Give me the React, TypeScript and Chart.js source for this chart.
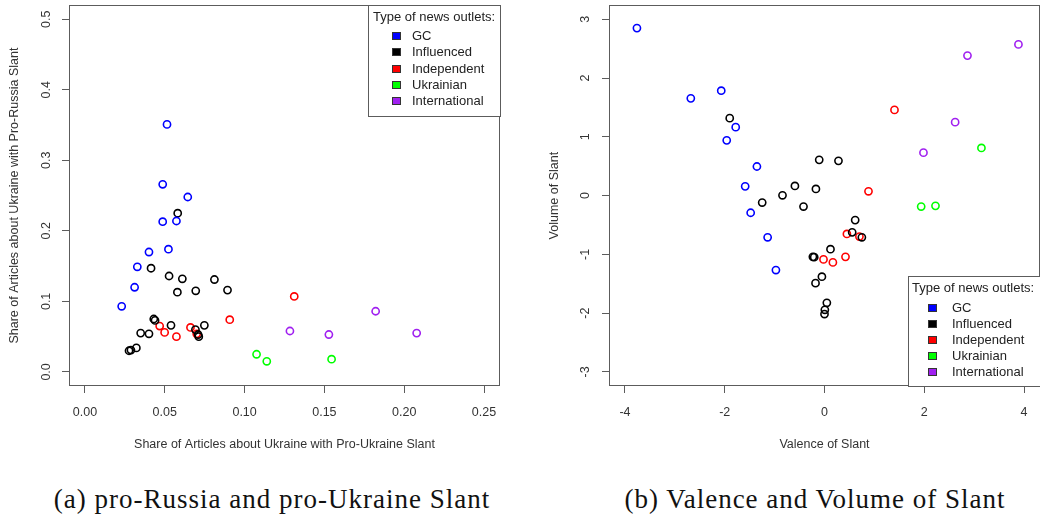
import React, { useEffect, useRef } from "react";
import { Chart, registerables } from "chart.js";

Chart.register(...registerables);

// Outlet groups and their colours
const groupNames = ["GC", "Influenced", "Independent", "Ukrainian", "International"];
const groupColors = ["#0000ff", "#000000", "#ff0000", "#00ff00", "#a020f0"];

// Panel (a): share of articles with pro-Ukraine slant (x) and pro-Russia slant (y)
const gcProUkraine = [0.0514, 0.0487, 0.0644, 0.0487, 0.0573, 0.0523, 0.0401, 0.0328, 0.0311, 0.023];
const gcProRussia = [0.351, 0.266, 0.248, 0.213, 0.214, 0.174, 0.17, 0.149, 0.12, 0.093];
const influencedProUkraine = [0.0581, 0.0414, 0.0527, 0.061, 0.0811, 0.0579, 0.0694, 0.0893, 0.0431, 0.0439, 0.0539, 0.0748, 0.0692, 0.0709, 0.0713, 0.0349, 0.0401, 0.0276, 0.0288, 0.0322];
const influencedProRussia = [0.225, 0.147, 0.136, 0.132, 0.131, 0.113, 0.115, 0.116, 0.075, 0.073, 0.066, 0.066, 0.06, 0.053, 0.05, 0.055, 0.054, 0.03, 0.031, 0.034];
const independentProUkraine = [0.1311, 0.0907, 0.0468, 0.0499, 0.0573, 0.0661, 0.07];
const independentProRussia = [0.107, 0.074, 0.065, 0.056, 0.05, 0.063, 0.054];
const ukrainianProUkraine = [0.1075, 0.1139, 0.1545];
const ukrainianProRussia = [0.025, 0.015, 0.018];
const internationalProUkraine = [0.1284, 0.1528, 0.1821, 0.2078];
const internationalProRussia = [0.058, 0.053, 0.086, 0.055];

// Panel (b): valence (x) and volume (y) of slant
const gcValence = [-3.76, -2.68, -2.07, -1.78, -1.96, -1.355, -1.59, -1.48, -1.14, -0.974];
const gcVolume = [2.85, 1.655, 1.785, 1.165, 0.94, 0.495, 0.157, -0.292, -0.71, -1.267];
const influencedValence = [-1.9, -0.106, 0.28, -0.593, -0.842, -0.172, -1.249, -0.421, 0.615, 0.555, 0.749, 0.12, -0.233, -0.206, -0.052, -0.18, 0.047, 0.007, 0.0];
const influencedVolume = [1.318, 0.608, 0.591, 0.164, 0.005, 0.113, -0.118, -0.186, -0.417, -0.625, -0.71, -0.912, -1.042, -1.047, -1.38, -1.49, -1.824, -1.943, -2.016];
const independentValence = [1.403, 0.882, 0.449, 0.7, -0.02, 0.168, 0.421];
const independentVolume = [1.458, 0.073, -0.653, -0.698, -1.086, -1.137, -1.042];
const ukrainianValence = [3.146, 1.938, 2.225];
const ukrainianVolume = [0.811, -0.186, -0.174];
const internationalValence = [3.888, 2.866, 2.619, 1.984];
const internationalVolume = [2.573, 2.382, 1.25, 0.731];

// Axis ticks
const shareTicksX = [0, 0.05, 0.1, 0.15, 0.2, 0.25];
const shareTicksY = [0, 0.1, 0.2, 0.3, 0.4, 0.5];
const valenceTicks = [-4, -2, 0, 2, 4];
const volumeTicks = [-3, -2, -1, 0, 1, 2, 3];

const legendTitle = "Type of news outlets:";
const captionA = "(a) pro-Russia and pro-Ukraine Slant";
const captionB = "(b) Valence and Volume of Slant";

const SANS = '"Liberation Sans", Arial, Helvetica, sans-serif';
const AXIS_GREY = "#5c5c5c";
const TEXT_GREY = "#333";

const zipPoints = (xs: number[], ys: number[]) => xs.map((x, i) => ({ x, y: ys[i] }));

function makeDatasets(pairs: [number[], number[]][]) {
  return pairs.map(([xs, ys], i) => ({
    label: groupNames[i],
    data: zipPoints(xs, ys),
    borderColor: groupColors[i],
    backgroundColor: "rgba(0,0,0,0)",
    borderWidth: 1.6,
    pointRadius: 3.6,
    pointHoverRadius: 3.6,
  }));
}

// Box drawn around the plotting region
const framePlugin = {
  id: "frame",
  afterDatasetsDraw(chart: any) {
    const { ctx, chartArea } = chart;
    ctx.save();
    ctx.strokeStyle = AXIS_GREY;
    ctx.lineWidth = 1;
    ctx.strokeRect(
      Math.round(chartArea.left) + 0.5,
      Math.round(chartArea.top) + 0.5,
      Math.round(chartArea.right - chartArea.left) - 1,
      Math.round(chartArea.bottom - chartArea.top) - 1
    );
    ctx.restore();
  },
};

// Boxed legend with a title, anchored to a corner of the plotting region
const boxLegendPlugin = {
  id: "boxLegend",
  afterDraw(chart: any, _args: any, opts: any) {
    const { ctx, chartArea } = chart;
    const w = opts.width;
    const h = opts.height;
    const x0 = Math.round(chartArea.right - w);
    const y0 = Math.round(opts.corner === "top" ? chartArea.top : chartArea.bottom - h);
    ctx.save();
    ctx.fillStyle = "#fff";
    ctx.fillRect(x0, y0, w, h);
    ctx.strokeStyle = AXIS_GREY;
    ctx.lineWidth = 1;
    ctx.strokeRect(x0 + 0.5, y0 + 0.5, w, h);
    ctx.font = `13px ${SANS}`;
    ctx.textBaseline = "middle";
    ctx.textAlign = "left";
    ctx.fillStyle = "#222";
    ctx.fillText(opts.title, x0 + opts.titleX, y0 + 12.5);
    chart.data.datasets.forEach((ds: any, i: number) => {
      const cy = Math.round(y0 + opts.firstY + i * opts.stepY);
      ctx.fillStyle = ds.borderColor;
      ctx.fillRect(x0 + opts.swatchX, cy - 4, 9, 8);
      ctx.strokeStyle = "#333";
      ctx.strokeRect(x0 + opts.swatchX + 0.5, cy - 3.5, 8, 7);
      ctx.fillStyle = "#222";
      ctx.fillText(ds.label, x0 + opts.textX, cy + 0.5);
    });
    ctx.restore();
  },
};

function axisTicks(values: number[]) {
  return (scale: any) => {
    scale.ticks = values.map((v) => ({ value: v }));
  };
}

function buildOptions(p: {
  xMin: number; xMax: number; yMin: number; yMax: number;
  xTicks: number[]; yTicks: number[];
  xFmt: (v: number) => string; yFmt: (v: number) => string;
  xTitle: string; yTitle: string;
  yAxisWidth: number; yTickPad: number; yTitlePad: number;
  legend: any;
}) {
  const tickFont = { family: SANS, size: 12.5 };
  const gridStyle = {
    display: true,
    drawOnChartArea: false,
    drawTicks: true,
    tickLength: 7,
    color: AXIS_GREY,
    lineWidth: 1,
  };
  return {
    responsive: false,
    animation: false as const,
    devicePixelRatio: 1,
    layout: { padding: { top: 3, right: 20, left: 0, bottom: 0 } },
    plugins: {
      legend: { display: false },
      tooltip: { enabled: false },
      boxLegend: p.legend,
    },
    scales: {
      x: {
        type: "linear" as const,
        min: p.xMin,
        max: p.xMax,
        afterBuildTicks: axisTicks(p.xTicks),
        afterFit: (s: any) => {
          s.height = 74;
          s.paddingLeft = 0;
          s.paddingRight = 0;
        },
        grid: gridStyle,
        border: { display: false },
        ticks: {
          autoSkip: false,
          maxRotation: 0,
          minRotation: 0,
          padding: 12,
          color: TEXT_GREY,
          font: tickFont,
          callback: (v: any) => p.xFmt(Number(v)),
        },
        title: {
          display: true,
          text: p.xTitle,
          color: TEXT_GREY,
          font: tickFont,
          padding: { top: 0, bottom: 7.5 },
        },
      },
      y: {
        type: "linear" as const,
        min: p.yMin,
        max: p.yMax,
        afterBuildTicks: axisTicks(p.yTicks),
        afterFit: (s: any) => {
          s.width = p.yAxisWidth;
          s.paddingTop = 0;
          s.paddingBottom = 0;
        },
        grid: gridStyle,
        border: { display: false },
        ticks: {
          autoSkip: false,
          minRotation: 90,
          maxRotation: 90,
          crossAlign: "center" as const,
          padding: p.yTickPad,
          color: TEXT_GREY,
          font: tickFont,
          callback: (v: any) => p.yFmt(Number(v)),
        },
        title: {
          display: true,
          text: p.yTitle,
          color: TEXT_GREY,
          font: tickFont,
          padding: { top: p.yTitlePad, bottom: 0 },
        },
      },
    },
  };
}

export default function App() {
  const refA = useRef<HTMLCanvasElement | null>(null);
  const refB = useRef<HTMLCanvasElement | null>(null);

  useEffect(() => {
    if (!refA.current || !refB.current) return;

    const chartA = new Chart(refA.current, {
      type: "scatter",
      data: {
        datasets: makeDatasets([
          [gcProUkraine, gcProRussia],
          [influencedProUkraine, influencedProRussia],
          [independentProUkraine, independentProRussia],
          [ukrainianProUkraine, ukrainianProRussia],
          [internationalProUkraine, internationalProRussia],
        ]),
      },
      options: buildOptions({
        xMin: -0.01, xMax: 0.26, yMin: -0.02, yMax: 0.52,
        xTicks: shareTicksX, yTicks: shareTicksY,
        xFmt: (v) => v.toFixed(2), yFmt: (v) => v.toFixed(1),
        xTitle: "Share of Articles about Ukraine with Pro-Ukraine Slant",
        yTitle: "Share of Articles about Ukraine with Pro-Russia Slant",
        yAxisWidth: 69, yTickPad: 6.6, yTitlePad: 7,
        legend: { corner: "top", width: 132, height: 111, title: legendTitle, titleX: 5, firstY: 31, stepY: 16.25, swatchX: 24, textX: 44 },
      }) as any,
      plugins: [framePlugin, boxLegendPlugin],
    });

    const chartB = new Chart(refB.current, {
      type: "scatter",
      data: {
        datasets: makeDatasets([
          [gcValence, gcVolume],
          [influencedValence, influencedVolume],
          [independentValence, independentVolume],
          [ukrainianValence, ukrainianVolume],
          [internationalValence, internationalVolume],
        ]),
      },
      options: buildOptions({
        xMin: -4.32, xMax: 4.32, yMin: -3.24, yMax: 3.24,
        xTicks: valenceTicks, yTicks: volumeTicks,
        xFmt: (v) => String(v), yFmt: (v) => String(v),
        xTitle: "Valence of Slant",
        yTitle: "Volume of Slant",
        yAxisWidth: 89, yTickPad: 10.4, yTitlePad: 27,
        legend: { corner: "bottom", width: 132, height: 110, title: legendTitle, titleX: 4, firstY: 32, stepY: 16, swatchX: 20, textX: 44 },
      }) as any,
      plugins: [framePlugin, boxLegendPlugin],
    });

    return () => {
      chartA.destroy();
      chartB.destroy();
    };
  }, []);

  const captionStyle: React.CSSProperties = {
    position: "absolute",
    top: 484,
    width: 600,
    height: 30,
    lineHeight: "30px",
    textAlign: "center",
    fontFamily: '"Liberation Serif", "Times New Roman", serif',
    fontSize: 27,
    letterSpacing: "1px",
    color: "#111",
    whiteSpace: "nowrap",
  };

  return (
    <div
      style={{
        position: "fixed",
        left: 0,
        top: 0,
        width: 1040,
        height: 514,
        overflow: "hidden",
        background: "#fff",
      }}
    >
      <canvas ref={refA} width={520} height={460} style={{ position: "absolute", left: 0, top: 0 }} />
      <canvas ref={refB} width={540} height={460} style={{ position: "absolute", left: 520, top: 0 }} />
      <div style={{ ...captionStyle, left: 272 - 300 }}>{captionA}</div>
      <div style={{ ...captionStyle, left: 815 - 300 }}>{captionB}</div>
    </div>
  );
}
